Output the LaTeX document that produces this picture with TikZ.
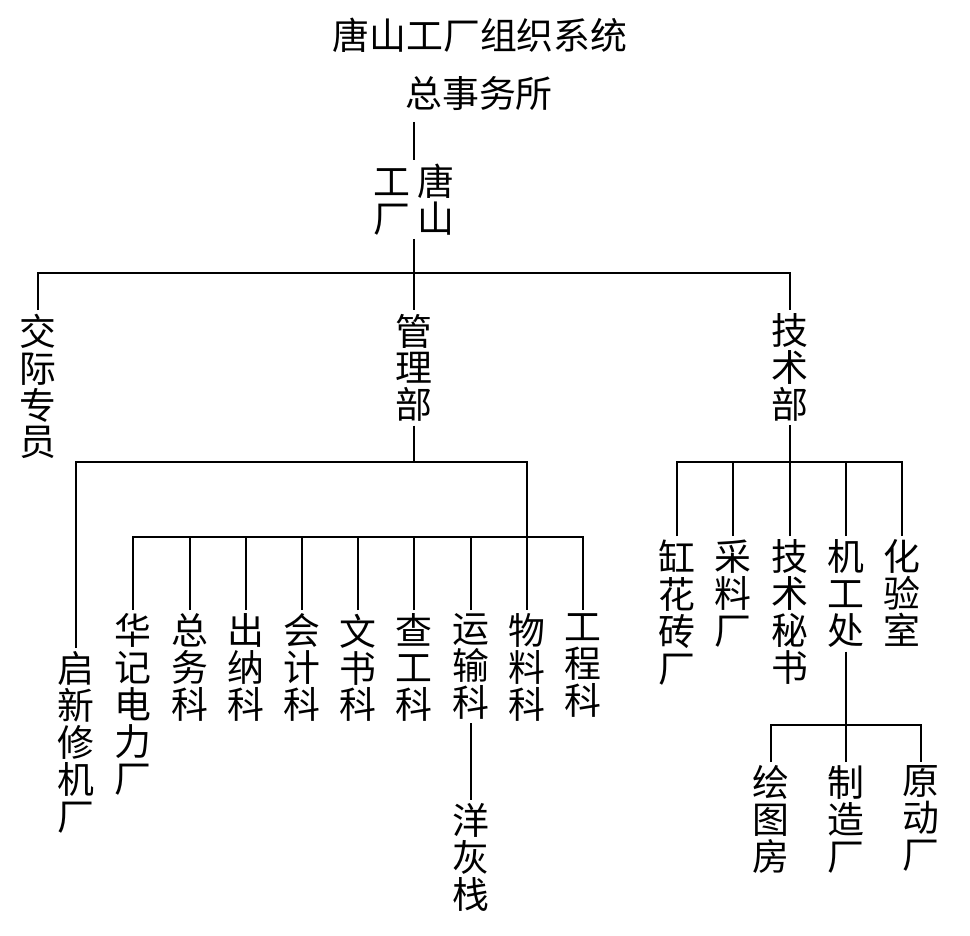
\documentclass[tikz,border=0pt]{standalone}
\usepackage{fontspec}
\setmainfont{Noto Sans CJK SC}
\usetikzlibrary{positioning,calc}
\newcommand{\orgfont}{\fontsize{21pt}{21pt}\selectfont}
\tikzset{
  unit/.style={inner sep=2pt,align=center,font=\orgfont},
  vunit/.style={unit,anchor=north},
  link/.style={line width=1pt}
}

\begin{document}
\begin{tikzpicture}[x=0.2mm,y=-0.2mm]
  \useasboundingbox (0,0) rectangle (970,935);
  \node[unit] (title) at (480,35) {唐山工厂组织系统};
  \node[unit] (zong) at (479,94) {总事务所};
  \node[vunit] (tangshan) at (414,160) {工\hspace{1.6mm}唐\\厂\hspace{1.6mm}山};
  % 三部
  \node[vunit] (jiaoji) at (38,310) {交\\际\\专\\员};
  \node[vunit] (guanli) at (414,310) {管\\理\\部};
  \node[vunit] (jishu) at (790,310) {技\\术\\部};
  % 管理部所属
  \node[vunit] (qixin) at (76,648) {启\\新\\修\\机\\厂};
  \node[vunit] (huaji) at (133,610) {华\\记\\电\\力\\厂};
  \node[vunit] (zongwu) at (190,610) {总\\务\\科};
  \node[vunit] (chuna) at (246,610) {出\\纳\\科};
  \node[vunit] (kuaiji) at (302,610) {会\\计\\科};
  \node[vunit] (wenshu) at (358,610) {文\\书\\科};
  \node[vunit] (chagong) at (414,610) {查\\工\\科};
  \node[vunit] (yunshu) at (471,610) {运\\输\\科};
  \node[vunit] (wuliao) at (527,610) {物\\料\\科};
  \node[vunit] (gongcheng) at (583,610) {工\\程\\科};
  \node[vunit] (yanghui) at (471,800) {洋\\灰\\栈};
  % 技术部所属
  \node[vunit] (ganghua) at (677,536) {缸\\花\\砖\\厂};
  \node[vunit] (cailiao) at (733,536) {采\\料\\厂};
  \node[vunit] (mishu) at (790,536) {技\\术\\秘\\书};
  \node[vunit] (jigong) at (846,536) {机\\工\\处};
  \node[vunit] (huayan) at (902,536) {化\\验\\室};
  \node[vunit] (huitu) at (771,762) {绘\\图\\房};
  \node[vunit] (zhizao) at (846,762) {制\\造\\厂};
  \node[vunit] (yuandong) at (921,762) {原\\动\\厂};
  % 横线位置
  \coordinate (bara) at (0,273);
  \coordinate (barb) at (0,462);
  \coordinate (barc) at (0,537);
  \coordinate (bard) at (0,725);

  \draw[link] ([yshift=-4pt]zong.south -| tangshan.north) -- (tangshan.north);
  \draw[link] (tangshan.south) -- (guanli.north);
  \draw[link] (jiaoji.north) |- (bara -| jishu) -- (jishu.north);

  \draw[link] (guanli.south) -- (guanli.south |- barb);
  \draw[link] (qixin.north) |- (barb -| wuliao) -- (wuliao.north);
  \draw[link] (huaji.north) |- (barc -| gongcheng) -- (gongcheng.north);
  \foreach \n in {zongwu,chuna,kuaiji,wenshu,chagong,yunshu}
    \draw[link] (\n.north) -- (\n.north |- barc);
  \draw[link] (yunshu.south) -- (yanghui.north);

  \draw[link] (jishu.south) -- (jishu.south |- barb);
  \draw[link] (ganghua.north) |- (barb -| huayan) -- (huayan.north);
  \foreach \n in {cailiao,mishu,jigong}
    \draw[link] (\n.north) -- (\n.north |- barb);
  \draw[link] (jigong.south) -- (jigong.south |- bard);
  \draw[link] (huitu.north) |- (bard -| yuandong) -- (yuandong.north);
  \draw[link] (zhizao.north) -- (zhizao.north |- bard);
\end{tikzpicture}
\end{document}
